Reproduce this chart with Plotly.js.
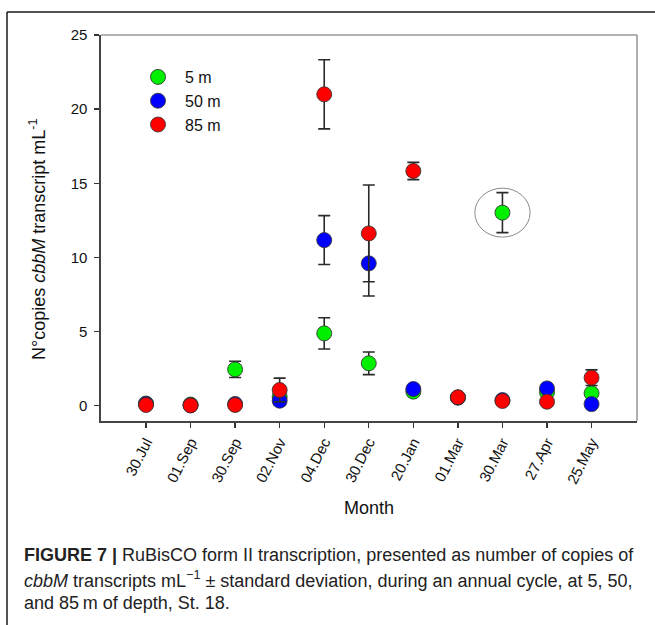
<!DOCTYPE html>
<html>
<head>
<meta charset="utf-8">
<script src="https://cdn.plot.ly/plotly-3.0.1.min.js"></script>
<style>
  html, body { margin: 0; padding: 0; background: #fff; }
  #chart { width: 655px; height: 625px; }
</style>
</head>
<body>
<div id="chart"></div>
<script>
// Sampling dates over the annual cycle
const months = ['30.Jul', '01.Sep', '30.Sep', '02.Nov', '04.Dec', '30.Dec', '20.Jan', '01.Mar', '30.Mar', '27.Apr', '25.May'];

// cbbM transcript copies per mL at each depth, with standard deviations
const depth5 = [0.15, 0.08, 2.45, 0.60, 4.88, 2.86, 0.95, 0.55, 13.02, 0.90, 0.84];
const depth5Sd = [0.05, 0.03, 0.55, 0.20, 1.05, 0.76, 0.10, 0.05, 1.35, 0.10, 0.10];
const depth50 = [0.12, 0.03, 0.12, 0.34, 11.17, 9.60, 1.13, 0.55, 0.38, 1.17, 0.11];
const depth50Sd = [0.05, 0.02, 0.05, 0.30, 1.65, 2.20, 0.10, 0.05, 0.05, 0.15, 0.05];
const depth85 = [0.05, 0.02, 0.05, 1.06, 21.00, 11.62, 15.83, 0.57, 0.32, 0.27, 1.89];
const depth85Sd = [0.05, 0.02, 0.05, 0.80, 2.33, 3.26, 0.58, 0.05, 0.05, 0.05, 0.53];

const seriesNames = ['5 m', '50 m', '85 m'];
const seriesColors = ['#00f000', '#0000ff', '#ff0000'];

// The 30.Mar surface sample is ringed
const highlightIndex = 8;
const highlightHalfHeight = 1.65;

const yTicks = [0, 5, 10, 15, 20, 25];

const yTitle = 'N\u00b0copies <i>cbbM</i> transcript mL<sup>-1</sup>';
const captionLines = [
  '<b>FIGURE 7 |</b> RuBisCO form II transcription, presented as number of copies of',
  '<i>cbbM</i> transcripts mL<sup>\u22121</sup> \u00b1 standard deviation, during an annual cycle, at 5, 50,',
  'and 85\u2009m of depth, St. 18.'
];

const values = [depth5, depth50, depth85];
const sds = [depth5Sd, depth50Sd, depth85Sd];

const traces = values.map((v, i) => ({
  type: 'scatter',
  mode: 'markers',
  name: seriesNames[i],
  x: months,
  y: v,
  error_y: { type: 'data', array: sds[i], visible: true, color: '#2a2a2a', thickness: 1.6, width: 6 },
  marker: { size: 15, color: seriesColors[i], line: { color: 'rgba(50,50,50,0.85)', width: 1 } },
  cliponaxis: false
}));

// Plot area geometry (pixels) used to place the figure frame and caption
const W = 655, H = 625;
const M = { l: 101, r: 18, t: 35, b: 204 };
const pw = W - M.l - M.r, ph = H - M.t - M.b;
const px = x => (x - M.l) / pw;
const py = y => (H - M.b - y) / ph;

const shapes = [
  // figure frame: top and left rules
  { type: 'line', xref: 'paper', yref: 'paper', x0: px(7), x1: px(660), y0: py(12), y1: py(12), line: { color: '#1a1a1a', width: 1.5 } },
  { type: 'line', xref: 'paper', yref: 'paper', x0: px(7), x1: px(7), y0: py(12), y1: py(630), line: { color: '#1a1a1a', width: 1.5 } },
  // light top and right edges of the plot box
  { type: 'line', xref: 'paper', yref: 'paper', x0: 0, x1: 1, y0: 1, y1: 1, line: { color: '#9a9a9a', width: 1.6 } },
  { type: 'line', xref: 'paper', yref: 'paper', x0: 1, x1: 1, y0: 0, y1: 1, line: { color: '#9a9a9a', width: 1.6 } },
  // ring around the 30.Mar surface value
  { type: 'circle', xref: 'x', yref: 'y',
    x0: highlightIndex - 0.62, x1: highlightIndex + 0.62,
    y0: depth5[highlightIndex] - highlightHalfHeight, y1: depth5[highlightIndex] + highlightHalfHeight,
    line: { color: '#8a8a8a', width: 1 } }
];

const annotations = captionLines.map((t, i) => ({
  xref: 'paper', yref: 'paper', x: px(22), y: py(555 + 24 * i),
  xanchor: 'left', yanchor: 'middle', align: 'left', showarrow: false,
  text: t, font: { family: 'Liberation Sans, Arial, sans-serif', size: 18, color: '#222' }
}));

// vertical axis title, placed by hand so it can sit slightly below centre
annotations.push({
  xref: 'paper', yref: 'paper', x: px(37), y: py(240),
  xanchor: 'center', yanchor: 'middle', textangle: -90, showarrow: false,
  text: yTitle, font: { family: 'Liberation Sans, Arial, sans-serif', size: 18, color: '#111' }
});

const layout = {
  width: W, height: H,
  margin: M,
  paper_bgcolor: '#fff', plot_bgcolor: '#fff',
  font: { family: 'Liberation Sans, Arial, sans-serif', color: '#111' },
  showlegend: true,
  legend: {
    x: px(131), y: py(60), xanchor: 'left', yanchor: 'top',
    bgcolor: 'rgba(0,0,0,0)', font: { size: 16, color: '#111' },
    itemwidth: 44, tracegroupgap: 0
  },
  xaxis: {
    type: 'category', range: [-1.01, 11.02],
    showgrid: false, zeroline: false,
    showline: true, linecolor: '#444', linewidth: 1.6,
    ticks: 'outside', ticklen: 5, tickwidth: 1.4, tickcolor: '#333',
    tickangle: -63, tickfont: { size: 15, color: '#111' },
    title: { text: 'Month', font: { size: 18, color: '#111' }, standoff: 15 }
  },
  yaxis: {
    range: [-1.03, 25], tickvals: yTicks,
    showgrid: false, zeroline: false,
    showline: true, linecolor: '#444', linewidth: 1.6,
    ticks: 'outside', ticklen: 5, tickwidth: 1.4, tickcolor: '#333',
    tickfont: { size: 15, color: '#111' }, ticklabelstandoff: 4
  },
  shapes: shapes,
  annotations: annotations
};

Plotly.newPlot('chart', traces, layout, { displayModeBar: false, staticPlot: true });
</script>
</body>
</html>
